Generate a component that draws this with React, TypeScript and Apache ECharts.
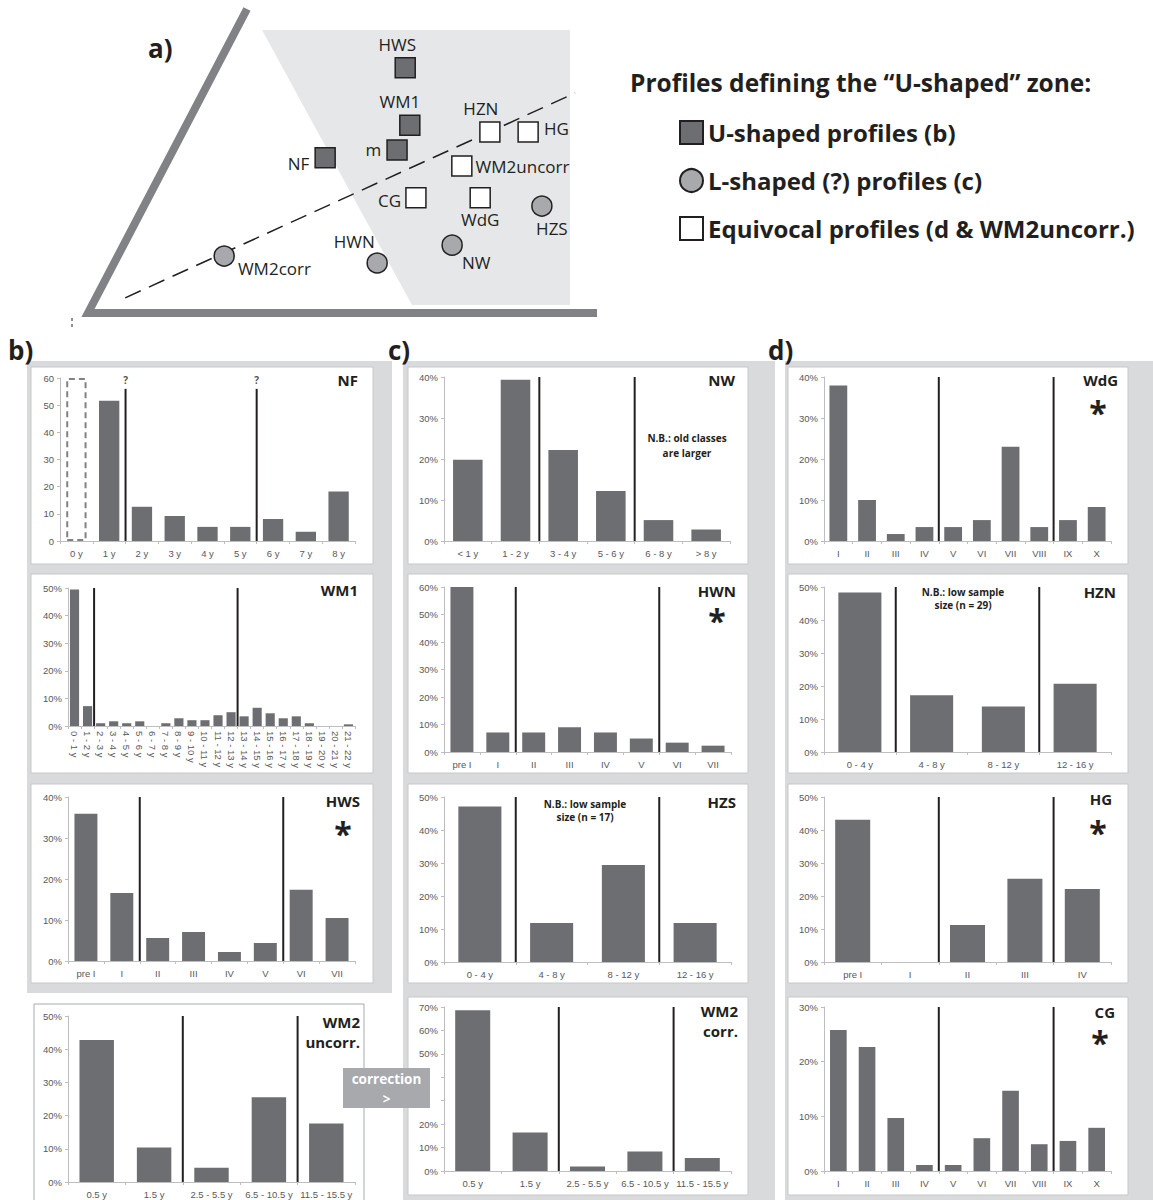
import React, { useEffect, useRef } from "react";
import * as echarts from "echarts";

// ---------------- data ----------------
const nfCats = ["0 y", "1 y", "2 y", "3 y", "4 y", "5 y", "6 y", "7 y", "8 y"];
const nfValues = ["-", 51.6, 12.6, 9.2, 5.2, 5.2, 8.1, 3.4, 18.2];
const nfMissing = [60, "-", "-", "-", "-", "-", "-", "-", "-"];
const nfDividers = [2, 6];

const wm1Cats = [
  "0 - 1 y", "1 - 2 y", "2 - 3 y", "3 - 4 y", "4 - 5 y", "5 - 6 y", "6 - 7 y", "7 - 8 y",
  "8 - 9 y", "9 - 10 y", "10 - 11 y", "11 - 12 y", "12 - 13 y", "13 - 14 y", "14 - 15 y",
  "15 - 16 y", "16 - 17 y", "17 - 18 y", "18 - 19 y", "19 - 20 y", "20 - 21 y", "21 - 22 y",
];
const wm1Values = [49.5, 7.2, 1.0, 1.7, 1.0, 1.7, 0, 1.0, 2.8, 2.1, 2.1, 3.9, 5.0, 3.5, 6.6, 4.6, 2.8, 3.5, 1.0, 0, 0, 0.6];
const wm1Dividers = [2, 13];

const hwsCats = ["pre I", "I", "II", "III", "IV", "V", "VI", "VII"];
const hwsValues = [35.9, 16.6, 5.6, 7.1, 2.2, 4.4, 17.4, 10.5];
const hwsDividers = [2, 6];

const wm2Cats = ["0.5 y", "1.5 y", "2.5 - 5.5 y", "6.5 - 10.5 y", "11.5 - 15.5 y"];
const wm2uValues = [42.8, 10.4, 4.3, 25.5, 17.6];
const wm2uDividers = [2, 4];

const nwCats = ["< 1 y", "1 - 2 y", "3 - 4 y", "5 - 6 y", "6 - 8 y", "> 8 y"];
const nwValues = [19.8, 39.3, 22.2, 12.2, 5.1, 2.8];
const nwDividers = [2, 4];

const hwnCats = ["pre I", "I", "II", "III", "IV", "V", "VI", "VII"];
const hwnValues = [60, 7.1, 7.1, 9.0, 7.1, 4.9, 3.4, 2.3];
const hwnDividers = [2, 6];

const hzCats = ["0 - 4 y", "4 - 8 y", "8 - 12 y", "12 - 16 y"];
const hzsValues = [47.1, 11.8, 29.4, 11.8];
const hzsDividers = [1, 3];

const wm2cValues = [68.6, 16.4, 1.9, 8.3, 5.6];
const wm2cDividers = [2, 4];

const romanCats = ["I", "II", "III", "IV", "V", "VI", "VII", "VIII", "IX", "X"];
const wdgValues = [37.9, 10.0, 1.7, 3.4, 3.4, 5.1, 23.0, 3.4, 5.1, 8.3];
const wdgDividers = [4, 8];

const hznValues = [48.3, 17.2, 13.8, 20.7];
const hznDividers = [1, 3];

const hgCats = ["pre I", "I", "II", "III", "IV"];
const hgValues = [43.1, 0, 11.2, 25.2, 22.1];
const hgDividers = [2, 4];

const cgValues = [25.8, 22.7, 9.7, 1.1, 1.1, 6.0, 14.7, 4.9, 5.5, 7.9];
const cgDividers = [4, 8];

// ternary-like diagram (panel a), diagram units 0-100
const diagNames = ["HWS", "WM1", "m", "NF", "HZN", "HG", "WM2uncorr", "CG", "WdG", "HZS", "HWN", "NW", "WM2corr"];
const diagX = [62.2, 63.1, 60.6, 46.5, 78.8, 86.3, 73.3, 64.3, 76.9, 89.0, 56.7, 71.4, 26.7];
const diagY = [80.9, 62.0, 53.8, 51.2, 59.7, 59.7, 48.5, 38.0, 38.0, 35.3, 16.5, 22.4, 18.8];
const diagGroup = ["U", "U", "U", "U", "E", "E", "E", "E", "E", "L", "L", "L", "L"];
const zoneLineX = [7.3, 95.5];
const zoneLineY = [5.0, 72.6];

// ---------------- style ----------------
const FONT = "'Liberation Sans', Arial, sans-serif";
const TFONT = "'Open Sans', 'Noto Sans', sans-serif";
const BAR = "#6d6e71";
const AXIS = "#bcbec0";
const LABEL = "#58595b";
const INK = "#231f20";
const PANEL = "#d9dadb";

const groups = [
  { key: "U", name: "U-shaped profiles (b)", symbol: "rect", color: BAR },
  { key: "L", name: "L-shaped (?) profiles (c)", symbol: "circle", color: "#a7a9ac" },
  { key: "E", name: "Equivocal profiles (d & WM2uncorr.)", symbol: "rect", color: "#ffffff" },
];

const diagLabelLayout: Record<string, any> = {
  HWS: { position: "top", distance: 4, offset: [-8, 0] },
  WM1: { position: "top", distance: 4, offset: [-10, 0] },
  m: { position: "left", distance: 5, offset: [0, 0] },
  NF: { position: "left", distance: 5, offset: [0, 6] },
  HZN: { position: "top", distance: 4, offset: [-9, 0] },
  HG: { position: "right", distance: 5, offset: [0, -4] },
  WM2uncorr: { position: "right", distance: 3, offset: [0, 0] },
  CG: { position: "left", distance: 4, offset: [0, 3] },
  WdG: { position: "bottom", distance: 2, offset: [0, 0] },
  HZS: { position: "bottom", distance: 3, offset: [10, 0] },
  HWN: { position: "top", distance: 2, offset: [-23, 0] },
  NW: { position: "bottom", distance: 0, offset: [24, -2] },
  WM2corr: { position: "right", distance: 3, offset: [0, 12] },
};

type Panel = {
  key: string;
  title: string;
  cats: string[];
  values: any[];
  dividers: number[];
  ymax: number;
  pct: boolean;
  grid: number[];
  gap: string;
  titleAt: number[];
  rotate?: number;
  star?: number[];
  note?: { text: string; at: number[]; lh: number };
  dividerTop?: number;
  dividerLabel?: string;
  ghost?: any[];
  hideLabels?: number[];
};

const panels: Panel[] = [
  { key: "NF", title: "NF", cats: nfCats, values: nfValues, dividers: nfDividers, ymax: 60, pct: false, grid: [60, 378, 295, 163], gap: "38%", titleAt: [358, 380], dividerTop: 56, dividerLabel: "?", ghost: nfMissing },
  { key: "WM1", title: "WM1", cats: wm1Cats, values: wm1Values, dividers: wm1Dividers, ymax: 50, pct: true, grid: [68, 588, 287, 138], gap: "30%", titleAt: [358, 590], rotate: -90 },
  { key: "HWS", title: "HWS", cats: hwsCats, values: hwsValues, dividers: hwsDividers, ymax: 40, pct: true, grid: [68, 797, 287, 164], gap: "36%", titleAt: [360, 801], star: [343, 828] },
  { key: "WM2u", title: "WM2\nuncorr.", cats: wm2Cats, values: wm2uValues, dividers: wm2uDividers, ymax: 50, pct: true, grid: [68, 1016, 287, 166], gap: "40%", titleAt: [360, 1022] },
  { key: "NW", title: "NW", cats: nwCats, values: nwValues, dividers: nwDividers, ymax: 40, pct: true, grid: [444, 377, 286, 164], gap: "38%", titleAt: [735, 380], note: { text: "N.B.: old classes\nare larger", at: [687, 438], lh: 15 } },
  { key: "HWN", title: "HWN", cats: hwnCats, values: hwnValues, dividers: hwnDividers, ymax: 60, pct: true, grid: [444, 587, 287, 165], gap: "36%", titleAt: [736, 591], star: [717, 615] },
  { key: "HZS", title: "HZS", cats: hzCats, values: hzsValues, dividers: hzsDividers, ymax: 50, pct: true, grid: [444, 797, 287, 165], gap: "40%", titleAt: [736, 802], note: { text: "N.B.: low sample\nsize (n = 17)", at: [585, 804], lh: 13 } },
  { key: "WM2c", title: "WM2\ncorr.", cats: wm2Cats, values: wm2cValues, dividers: wm2cDividers, ymax: 70, pct: true, grid: [444, 1007, 287, 164], gap: "39%", titleAt: [738, 1011], hideLabels: [30, 40] },
  { key: "WdG", title: "WdG", cats: romanCats, values: wdgValues, dividers: wdgDividers, ymax: 40, pct: true, grid: [824, 377, 287, 164], gap: "38%", titleAt: [1118, 380], star: [1098, 407] },
  { key: "HZN", title: "HZN", cats: hzCats, values: hznValues, dividers: hznDividers, ymax: 50, pct: true, grid: [824, 587, 287, 165], gap: "40%", titleAt: [1116, 592], note: { text: "N.B.: low sample\nsize (n = 29)", at: [963, 592], lh: 13 } },
  { key: "HG", title: "HG", cats: hgCats, values: hgValues, dividers: hgDividers, ymax: 50, pct: true, grid: [824, 797, 287, 165], gap: "39%", titleAt: [1112, 799], star: [1098, 827] },
  { key: "CG", title: "CG", cats: romanCats, values: cgValues, dividers: cgDividers, ymax: 30, pct: true, grid: [824, 1007, 287, 164], gap: "42%", titleAt: [1115, 1012], star: [1100, 1037] },
];

function buildOption() {
  const grid: any[] = [];
  const xAxis: any[] = [];
  const yAxis: any[] = [];
  const series: any[] = [];
  const graphic: any[] = [];

  // backgrounds
  const panelRects = [
    [27, 361, 365, 632],
    [403, 361, 372, 839],
    [785, 361, 368, 839],
  ];
  panelRects.forEach(([x, y, w, h]) =>
    graphic.push({ type: "rect", z: -20, silent: true, shape: { x, y, width: w, height: h }, style: { fill: PANEL } })
  );
  const rows = [[367, 197], [574, 199], [784, 199], [997, 198]];
  const cols = [[31, 342], [408, 340], [788, 340]];
  cols.forEach(([cx, cw], ci) =>
    rows.forEach(([ry, rh], ri) => {
      if (ci === 0 && ri === 3) return;
      graphic.push({ type: "rect", z: -19, silent: true, shape: { x: cx, y: ry, width: cw, height: rh }, style: { fill: "#fff", stroke: "#c7c8ca", lineWidth: 1 } });
    })
  );
  graphic.push({ type: "rect", z: -19, silent: true, shape: { x: 34, y: 1004, width: 330, height: 210 }, style: { fill: "#fff", stroke: "#a7a9ac", lineWidth: 1 } });

  panels.forEach((p, i) => {
    const [l, t, w, h] = p.grid;
    const hide = p.hideLabels || [];
    grid.push({ left: l, top: t, width: w, height: h });
    xAxis.push({
      type: "category", gridIndex: i, data: p.cats,
      axisLine: { lineStyle: { color: AXIS, width: 1 } },
      axisTick: { show: true, length: 3, lineStyle: { color: AXIS } },
      axisLabel: { interval: 0, rotate: p.rotate || 0, fontSize: 9.5, color: LABEL, fontFamily: FONT, margin: p.rotate ? 5 : 7 },
    });
    xAxis.push({ type: "value", gridIndex: i, min: 0, max: p.cats.length, show: false });
    yAxis.push({
      type: "value", gridIndex: i, min: 0, max: p.ymax, interval: 10,
      splitLine: { show: false },
      axisLine: { show: true, lineStyle: { color: AXIS } },
      axisTick: { show: true, length: 3, lineStyle: { color: AXIS } },
      axisLabel: {
        formatter: (v: number) => (hide.includes(v) ? "" : p.pct ? v + "%" : String(v)),
        fontSize: 9.5, color: LABEL, fontFamily: FONT, margin: 6,
      },
    });
    series.push({ type: "bar", name: p.key, xAxisIndex: 2 * i, yAxisIndex: i, data: p.values, barCategoryGap: p.gap, itemStyle: { color: BAR }, silent: true });
    if (p.ghost) {
      series.push({
        type: "bar", name: p.key + " (no data)", xAxisIndex: 2 * i, yAxisIndex: i, data: p.ghost,
        barGap: "-100%", barCategoryGap: p.gap, silent: true,
        itemStyle: { color: "rgba(0,0,0,0)", borderColor: "#808285", borderWidth: 2, borderType: [6, 4] },
      });
    }
    p.dividers.forEach((d) => {
      series.push({
        type: "line", xAxisIndex: 2 * i + 1, yAxisIndex: i, data: [[d, 0], [d, p.dividerTop ?? p.ymax]],
        symbol: "none", lineStyle: { color: INK, width: 2 }, silent: true, z: 5,
      });
    });
    if (p.dividerLabel) {
      series.push({
        type: "scatter", xAxisIndex: 2 * i + 1, yAxisIndex: i, data: p.dividers.map((d) => [d, p.dividerTop]),
        symbolSize: 1, itemStyle: { color: "rgba(0,0,0,0)" }, silent: true,
        label: { show: true, position: "top", distance: 3, formatter: p.dividerLabel, fontSize: 10, fontWeight: "bold", fontFamily: TFONT, color: INK },
      });
    }
    const multi = p.title.includes("\n");
    graphic.push({
      type: "text", z: 10, silent: true, x: p.titleAt[0], y: multi ? p.titleAt[1] - 10 : p.titleAt[1],
      style: { text: p.title, fontSize: 15, fontWeight: "bold", fontFamily: TFONT, fill: INK, align: "right", verticalAlign: multi ? "top" : "middle", lineHeight: 20 },
    });
    if (p.star) {
      graphic.push({
        type: "text", z: 10, silent: true, x: p.star[0], y: p.star[1] + 5,
        style: { text: "*", fontSize: 32, fontWeight: "bold", fontFamily: TFONT, fill: INK, align: "center", verticalAlign: "middle", lineHeight: 14 },
      });
    }
    if (p.note) {
      graphic.push({
        type: "text", z: 10, silent: true, x: p.note.at[0], y: p.note.at[1] - p.note.lh / 2,
        style: { text: p.note.text, fontSize: 10, fontWeight: "bold", fontFamily: TFONT, fill: INK, align: "center", verticalAlign: "top", lineHeight: p.note.lh },
      });
    }
  });

  // diagram (panel a)
  const di = panels.length;
  grid.push({ left: 88, top: 10, width: 510, height: 303 });
  xAxis.push({ type: "value", gridIndex: di, min: 0, max: 100, show: false });
  yAxis.push({ type: "value", gridIndex: di, min: 0, max: 100, show: false });
  series.push({
    type: "line", name: "zone boundary", xAxisIndex: 2 * di, yAxisIndex: di, silent: true, symbol: "none",
    data: zoneLineX.map((x, k) => [x, zoneLineY[k]]),
    lineStyle: { color: INK, width: 1.5, type: [17, 9] }, z: 3,
  });
  groups.forEach((g) => {
    series.push({
      type: "scatter", name: g.name, xAxisIndex: 2 * di, yAxisIndex: di, symbol: g.symbol, symbolSize: 20,
      itemStyle: { color: g.color, borderColor: INK, borderWidth: 1.5, opacity: 1 }, z: 6, silent: true,
      label: { show: true, formatter: "{b}", fontSize: 17, fontFamily: TFONT, color: INK },
      data: diagNames
        .map((n, k) => ({ n, k }))
        .filter(({ k }) => diagGroup[k] === g.key)
        .map(({ n, k }) => ({ name: n, value: [diagX[k], diagY[k]], label: diagLabelLayout[n] })),
    });
  });

  // diagram frame
  graphic.push({ type: "polygon", z: -20, silent: true, shape: { points: [[262, 30], [570, 30], [570, 305], [412, 305]] }, style: { fill: "#e6e7e8" } });
  graphic.push({ type: "polyline", z: -5, silent: true, shape: { points: [[247, 9], [88, 313], [597, 313]] }, style: { stroke: "#808285", lineWidth: 8, fill: null, lineJoin: "miter" } });
  graphic.push({ type: "line", z: -5, silent: true, shape: { x1: 72, y1: 318, x2: 72, y2: 328 }, style: { stroke: INK, lineWidth: 1, lineDash: [3, 3] } });

  // section labels
  [["a)", 148, 48], ["b)", 8, 350], ["c)", 388, 350], ["d)", 768, 350]].forEach(([t, x, y]) =>
    graphic.push({ type: "text", z: 10, silent: true, x, y, style: { text: t, fontSize: 26, fontWeight: "bold", fontFamily: TFONT, fill: INK, verticalAlign: "middle" } })
  );
  graphic.push({
    type: "text", z: 10, silent: true, x: 630, y: 82,
    style: { text: "Profiles defining the \u201cU-shaped\u201d zone:", fontSize: 24.5, fontWeight: "bold", fontFamily: TFONT, fill: INK, verticalAlign: "middle" },
  });

  // correction box
  graphic.push({ type: "rect", z: 100, silent: true, shape: { x: 343, y: 1068, width: 87, height: 40 }, style: { fill: "#a7a9ac" } });
  graphic.push({
    type: "text", z: 101, silent: true, x: 386.5, y: 1079,
    style: { text: "correction", fontSize: 13.5, fontWeight: "bold", fontFamily: TFONT, fill: "#fff", align: "center", verticalAlign: "middle", lineHeight: 13 },
  });
  graphic.push({
    type: "text", z: 101, silent: true, x: 386.5, y: 1099,
    style: { text: ">", fontSize: 13.5, fontWeight: "bold", fontFamily: TFONT, fill: "#fff", align: "center", verticalAlign: "middle", lineHeight: 13 },
  });

  return {
    animation: false,
    backgroundColor: "#fff",
    legend: {
      data: groups.map((g) => g.name), orient: "vertical", left: 674, top: 115,
      itemWidth: 23, itemHeight: 23, itemGap: 23, selectedMode: false,
      textStyle: { fontSize: 24, fontWeight: "bold", fontFamily: TFONT, color: INK },
    },
    grid, xAxis, yAxis, series, graphic,
  };
}

export default function App() {
  const ref = useRef<HTMLDivElement>(null);
  useEffect(() => {
    const chart = echarts.init(ref.current!, null, { renderer: "svg" });
    chart.setOption(buildOption());
    return () => chart.dispose();
  }, []);
  return <div ref={ref} style={{ position: "absolute", left: 0, top: 0, width: 1153, height: 1200, background: "#fff" }} />;
}
